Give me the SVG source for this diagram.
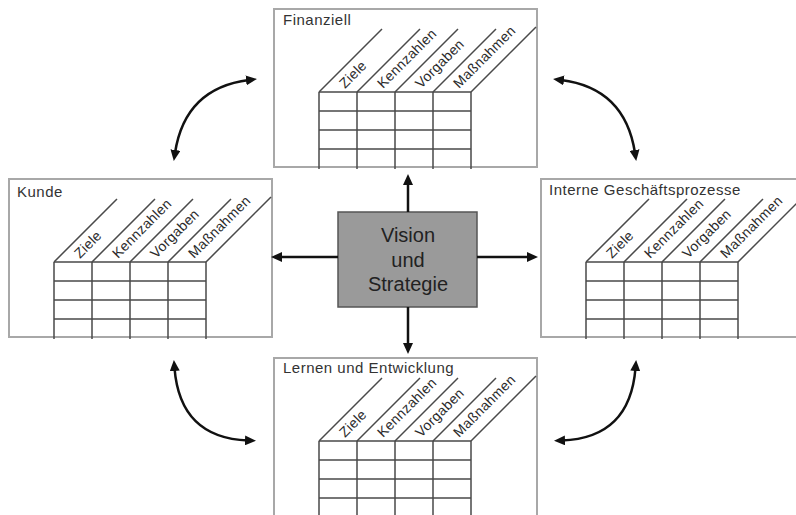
<svg xmlns="http://www.w3.org/2000/svg" width="796" height="515" viewBox="0 0 796 515">
<style>
.bg{fill:#fff}
.box{fill:#fff;stroke:#a8a8a8;stroke-width:2}
.tb{fill:none;stroke:#4a4a4a;stroke-width:1.5}
.title{font-family:"Liberation Sans",Arial,sans-serif;font-size:15px;letter-spacing:0.5px;fill:#333}
.col{font-family:"Liberation Sans",Arial,sans-serif;font-size:14px;letter-spacing:0.3px;fill:#2a2a2a}
.center{fill:#9a9a9a;stroke:#555;stroke-width:1.5}
.ctext{font-family:"Liberation Sans",Arial,sans-serif;font-size:20px;fill:#222;text-anchor:middle}
.arr{fill:none;stroke:#111;stroke-width:2.5;marker-start:url(#ah);marker-end:url(#ah)}
.arr1{fill:none;stroke:#111;stroke-width:2.5;marker-end:url(#ah)}
</style>
<defs>
<marker id="ah" markerUnits="userSpaceOnUse" markerWidth="11" markerHeight="10" refX="3" refY="5" orient="auto-start-reverse" viewBox="0 0 11 10">
<path d="M0,0 L11,5 L0,10 z" fill="#111"/>
</marker>
<g id="tpl">
<rect class="box" x="0" y="0" width="263" height="158"/>
<g class="tb">
<path d="M45,83 V160 M83,83 V160 M121,83 V160 M159,83 V160 M197,83 V160"/>
<path d="M45,83 H197 M45,102 H197 M45,121 H197 M45,140 H197"/>
<path d="M45,83 L108,20 M83,83 L146,20 M121,83 L184,20 M159,83 L222,20 M197,83 L262,18"/>
</g>
<text class="col" transform="translate(71,80) rotate(-45)">Ziele</text>
<text class="col" transform="translate(109,80) rotate(-45)">Kennzahlen</text>
<text class="col" transform="translate(147,80) rotate(-45)">Vorgaben</text>
<text class="col" transform="translate(185,80) rotate(-45)">Maßnahmen</text>
</g>
</defs>
<rect class="bg" x="0" y="0" width="796" height="515"/>
<g id="finanziell" transform="translate(274,9)">
<use href="#tpl"/>
<text class="title" x="9" y="16">Finanziell</text>
</g>
<g id="kunde" transform="translate(9,179)">
<use href="#tpl"/>
<text class="title" x="8" y="18">Kunde</text>
</g>
<g id="interne" transform="translate(541,179)">
<use href="#tpl"/>
<text class="title" x="8" y="16">Interne Geschäftsprozesse</text>
</g>
<g id="lernen" transform="translate(274,358)">
<use href="#tpl"/>
<text class="title" x="9" y="15">Lernen und Entwicklung</text>
</g>
<g id="vision">
<rect class="center" x="338" y="212" width="139" height="95"/>
<text class="ctext" x="408" y="242">Vision</text>
<text class="ctext" x="408" y="267">und</text>
<text class="ctext" x="408" y="291">Strategie</text>
</g>
<g id="connectors">
<path class="arr1" d="M408,212 L408,182"/>
<path class="arr1" d="M408,307 L408,346"/>
<path class="arr1" d="M338,257 L279,257"/>
<path class="arr1" d="M477,257 L530,257"/>
<path class="arr" d="M175,153 Q185,88 249,80"/>
<path class="arr" d="M635,153 Q625,88 561,80"/>
<path class="arr" d="M174.5,368 Q180,438 248,440.5"/>
<path class="arr" d="M635.5,368 Q630,438 562,440.5"/>
</g>
</svg>
